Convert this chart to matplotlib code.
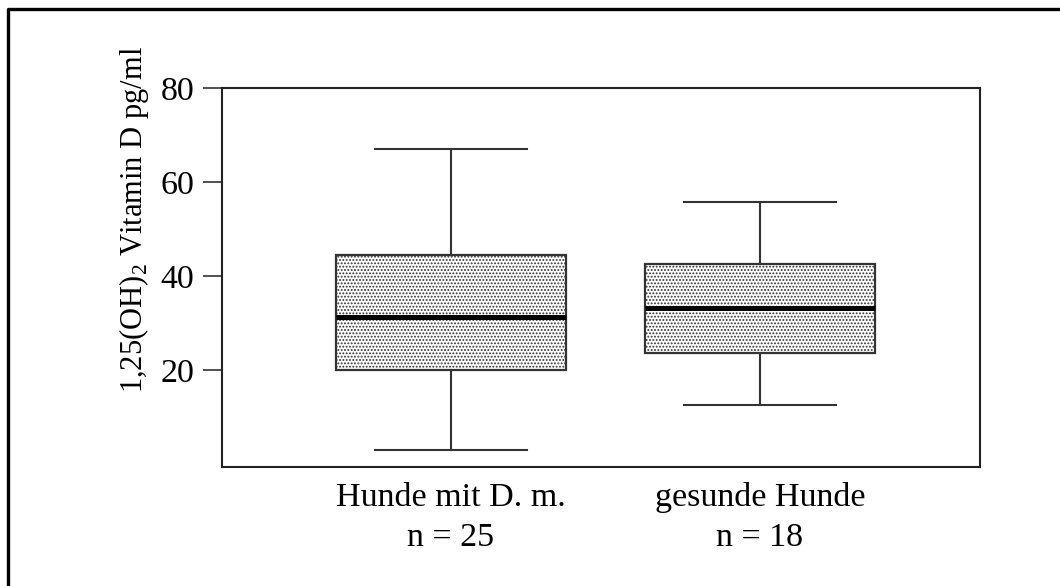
import matplotlib.pyplot as plt
from matplotlib.lines import Line2D

plt.rcParams['font.family'] = ['Liberation Serif', 'DejaVu Serif']
plt.rcParams['mathtext.fontset'] = 'custom'
plt.rcParams['mathtext.rm'] = 'Liberation Serif'
plt.rcParams['hatch.color'] = '#444444'
plt.rcParams['hatch.linewidth'] = 0.9

# Werte
gruppen = ['Hunde mit D. m.\nn = 25', 'gesunde Hunde\nn = 18']
median = [31.3, 33.1]
q1 = [20.0, 23.7]
q3 = [44.4, 42.5]
whisker_unten = [3.0, 12.5]
whisker_oben = [67.0, 55.7]

stats = []
for i in range(len(gruppen)):
    stats.append({'med': median[i], 'q1': q1[i], 'q3': q3[i],
                  'whislo': whisker_unten[i], 'whishi': whisker_oben[i],
                  'fliers': []})

fig = plt.figure(figsize=(10.6, 5.86), dpi=100)
ax = fig.add_axes([0.2094, 0.2031, 0.7151, 0.6467])

linie = '#333333'
bp = ax.bxp(stats, positions=[1, 2], widths=0.745, capwidths=0.49,
            patch_artist=True, showfliers=False,
            boxprops=dict(facecolor='white', edgecolor=linie, linewidth=1.6, hatch='.....'),
            medianprops=dict(color='black', linewidth=3.6),
            whiskerprops=dict(color=linie, linewidth=1.5),
            capprops=dict(color=linie, linewidth=1.5))

ax.set_xlim(0.259, 2.712)
ax.set_ylim(-0.64, 80)
ax.set_yticks([20, 40, 60, 80])
ax.set_xticks([1, 2])
ax.set_xticklabels(gruppen, linespacing=1.4)
ax.tick_params(axis='y', length=14, width=1.2, direction='out', pad=6, labelsize=24.5, color=linie)
ax.tick_params(axis='x', length=0, pad=11, labelsize=24.5)
for s in ax.spines.values():
    s.set_linewidth(1.5)
    s.set_color('#222222')

fig.text(134 / 1060, 1 - 219 / 586, r'1,25(OH)$_{\mathrm{2}}$ Vitamin D pg/ml',
         rotation=90, ha='center', va='center', fontsize=22)

# Rahmen oben und links
fig.add_artist(Line2D([8 / 1060, 8 / 1060, 1.0], [0.0, 1 - 9 / 586, 1 - 9 / 586],
                      transform=fig.transFigure, color='black', linewidth=2.4))

fig.savefig('out.png', dpi=100)
